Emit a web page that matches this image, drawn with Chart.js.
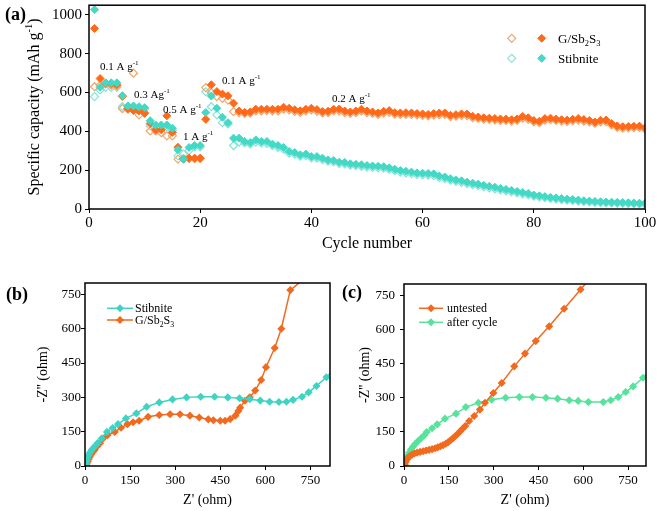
<!DOCTYPE html>
<html><head><meta charset="utf-8">
<script src="https://cdn.jsdelivr.net/npm/chart.js@4.4.1/dist/chart.umd.min.js"></script>
<style>
html,body{margin:0;padding:0;background:#fff;}
body{width:662px;height:511px;position:relative;overflow:hidden;}
canvas{position:absolute;}
</style></head><body>
<canvas id="ca" style="left:0px;top:0px;width:662px;height:260px" width="662" height="260"></canvas>
<canvas id="cb" style="left:0px;top:270px;width:340px;height:241px" width="340" height="241"></canvas>
<canvas id="cc" style="left:335px;top:270px;width:327px;height:241px" width="327" height="241"></canvas>
<script>
// ---------- DATA: panel (a) rate / cycling ----------
const cycles = [1,2,3,4,5,6,7,8,9,10,11,12,13,14,15,16,17,18,19,20,21,22,23,24,25,26,27,28,29,30,31,32,33,34,35,36,37,38,39,40,41,42,43,44,45,46,47,48,49,50,51,52,53,54,55,56,57,58,59,60,61,62,63,64,65,66,67,68,69,70,71,72,73,74,75,76,77,78,79,80,81,82,83,84,85,86,87,88,89,90,91,92,93,94,95,96,97,98,99,100];
const gsbFilled = [930,672,648,645,640,580,517,507,505,493,440,408,408,480,395,318,258,262,262,262,462,640,605,592,583,545,
  505,498,500,514,514,514,514,514,524,519,
  511,506,514,519,512,502,504,514,515,505,
  500,505,514,505,500,495,503,507,496,495,
  496,495,492,490,487,492,494,495,483,486,
  490,489,478,474,470,468,466,464,463,460,
  464,477,470,456,452,466,468,463,460,458,
  462,466,461,456,448,457,458,440,428,424,
  425,426,427,418];
const gsbOpen = [630,638,645,638,634,517,514,700,485,495,402,402,393,377,377,257,258,260,260,260,625,600,579,570,561,502,
  497,492,494,506,505,507,506,505,515,511,
  503,498,506,511,503,495,497,506,506,497,
  493,497,505,497,492,488,495,498,489,487,
  488,487,485,482,480,484,486,487,476,478,
  482,481,471,467,463,461,459,457,456,453,
  457,468,462,449,445,458,460,456,453,451,
  455,458,453,449,441,449,450,433,421,417,
  418,419,420,411];
const stibFilled = [1027,627,650,650,650,584,531,531,527,522,455,433,433,433,416,305,257,317,327,327,497,582,519,473,445,365,
  365,348,342,356,348,348,334,327,317,296,
  291,279,283,270,270,262,253,250,241,240,
  233,230,228,224,222,220,218,212,205,198,
  194,190,186,184,183,181,170,165,156,150,
  145,138,133,128,122,117,112,106,101,96,
  90,85,80,72,68,64,60,57,54,51,
  49,46,43,41,39,37,36,35,34,33,
  32,31,30,29];
const stibOpen = [579,613,627,627,627,527,527,525,520,515,428,424,425,424,405,274,283,301,320,320,604,527,485,445,438,327,
  345,340,335,345,340,338,326,318,308,288,
  283,272,275,263,262,254,246,243,234,232,
  226,223,220,216,214,212,210,204,197,190,
  186,182,178,176,175,172,162,157,148,142,
  137,130,125,120,114,109,104,98,93,88,
  83,78,73,66,62,58,54,51,48,46,
  44,41,38,36,34,33,32,31,30,29,
  28,27,26,25];
const aXTicks = [0,20,40,60,80,100];
const aYTicks = [0,200,400,600,800,1000];

// ---------- DATA: panel (b) Nyquist ----------
const bStibX = [0,3,5,8,12,17,23,32,42,55,73,92,110,136,171,205,247,291,338,385,431,475,514,548,583,614,645,670,692,722,744,770,803,830];
const bStibY = [0,10,22,35,48,60,72,85,100,120,149,166,183,208,230,259,278,291,300,303,303,300,296,292,286,281,280,281,289,303,322,350,388,425];
const bGsbX = [4,6,9,12,16,20,25,32,40,50,60,75,99,120,141,160,180,210,247,283,316,349,380,410,427,450,466,483,500,510,516,532,548,566,586,602,631,653,683,740];
const bGsbY = [0,10,20,30,40,50,60,70,85,100,120,135,149,167,183,191,198,215,223,226,226,220,212,204,200,198,198,205,220,240,255,285,300,330,376,432,516,600,769,830];

// ---------- DATA: panel (c) Nyquist ----------
const cUntX = [0,2,5,9,14,20,27,35,44,54,64,74,84,94,104,113,122,131,140,148,156,164,172,180,188,196,205,218,235,254,271,299,327,369,405,441,486,536,591,640];
const cUntY = [0,8,18,28,37,44,50,55,59,62,65,68,71,74,78,82,87,92,98,105,113,122,132,142,153,164,176,198,220,248,278,321,365,438,494,549,614,691,776,850];
const cAftX = [0,3,5,8,12,17,23,30,38,47,57,67,76,94,111,137,174,207,249,293,340,386,430,475,514,553,583,617,667,692,717,742,767,800,830];
const cAftY = [0,8,20,32,45,58,72,85,98,110,122,134,149,166,183,208,230,259,278,291,300,303,303,300,296,289,286,281,281,289,303,325,350,388,430];
const zTicks = [0,150,300,450,600,750];

// ---------- helpers ----------
const FONT = '"Liberation Serif", "Times New Roman", serif';
const C_G = '#FF6A1A', C_GO = '#F2A56A', C_S = '#43D9C6', C_SO = '#86E3D8';
const C_B_S = '#3FD3C4', C_ORG = '#F26A1E', C_AFT = '#57E39B';
function pts(xs, ys){ return xs.map((x,i)=>({x:x, y:ys[i]})); }
function richWidth(ctx, parts, size){
  let w=0; for(const [t,k] of parts){ ctx.font=(k==='n'?size:size*0.65)+'px '+FONT; w+=ctx.measureText(t).width; } return w;
}
function drawRich(ctx, x, y, parts, size, align, color){
  ctx.save(); ctx.fillStyle=color||'#000'; ctx.textBaseline='alphabetic'; ctx.textAlign='left';
  const w=richWidth(ctx, parts, size);
  let cx = align==='center' ? x-w/2 : x;
  for(const [t,k] of parts){
    const s = k==='n'?size:size*0.65;
    ctx.font = s+'px '+FONT;
    const dy = k==='sup' ? -size*0.42 : (k==='sub' ? size*0.22 : 0);
    ctx.fillText(t, cx, y+dy);
    cx += ctx.measureText(t).width;
  }
  ctx.restore();
}
function boldLabel(ctx, text, x, y){
  ctx.save(); ctx.fillStyle='#000'; ctx.font='bold 18px '+FONT; ctx.textBaseline='alphabetic'; ctx.textAlign='left';
  ctx.fillText(text, x, y); ctx.restore();
}
function frame(chart){
  const a=chart.chartArea, ctx=chart.ctx;
  ctx.save(); ctx.strokeStyle='#000'; ctx.lineWidth=1.5;
  ctx.strokeRect(a.left, a.top, a.right-a.left, a.bottom-a.top); ctx.restore();
}
function axisX(min,max,ticks,size,w,titleText,titleSize,tpad,tickPad){
  return {type:'linear', min:min, max:max,
    afterBuildTicks: s=>{ s.ticks = ticks.map(v=>({value:v})); },
    ticks:{font:{family:FONT,size:size}, color:'#000', padding:tickPad, maxRotation:0, autoSkip:false, callback:v=>String(v)},
    grid:{display:true, drawOnChartArea:false, drawTicks:true, tickLength:4, color:'#000', lineWidth:1},
    border:{display:false},
    title: titleText ? {display:true, text:titleText, color:'#000', font:{family:FONT,size:titleSize}, padding:tpad} : {display:false},
    afterFit: s=>{ s.height=w; s.paddingLeft=0; s.paddingRight=0; }
  };
}
function axisY(min,max,ticks,size,w,titleText,titleSize,tpad,tickPad){
  return {type:'linear', min:min, max:max,
    afterBuildTicks: s=>{ s.ticks = ticks.map(v=>({value:v})); },
    ticks:{font:{family:FONT,size:size}, color:'#000', padding:tickPad, autoSkip:false, callback:v=>String(v)},
    grid:{display:true, drawOnChartArea:false, drawTicks:true, tickLength:4, color:'#000', lineWidth:1},
    border:{display:false},
    title: titleText ? {display:true, text:titleText, color:'#000', font:{family:FONT,size:titleSize}, padding:tpad} : {display:false},
    afterFit: s=>{ s.width=w; s.paddingTop=0; s.paddingBottom=0; }
  };
}
const base = {responsive:false, animation:false, devicePixelRatio:1,
  plugins:{legend:{display:false}, tooltip:{enabled:false}}, events:[]};

// ---------- Panel (a) ----------
const aPlugin = {id:'aDeco', afterDraw(chart){
  const ctx=chart.ctx;
  frame(chart);
  boldLabel(ctx,'(a)',5,20);
  // y title rotated with superscript
  ctx.save(); ctx.translate(38.5,107); ctx.rotate(-Math.PI/2);
  drawRich(ctx,0,0,[['Specific capacity (mAh g','n'],['-1','sup'],[')','n']],16,'center');
  ctx.restore();
  // rate annotations
  const ann = [[100,70,'0.1 A g'],[134,97.5,'0.3 Ag'],[163,113,'0.5 A g'],[183,140,'1 A g'],[222,83.5,'0.1 A g'],[332,102,'0.2 A g']];
  for(const [x,y,t] of ann) drawRich(ctx,x,y,[[t,'n'],['-1','sup']],11,'left');
  // legend
  const H = Chart.helpers;
  const rows = [[38.3,C_GO,C_G,[['G/Sb','n'],['2','sub'],['S','n'],['3','sub']]],[58.3,C_SO,C_S,[['Stibnite','n']]]];
  for(const [y,co,cf,lab] of rows){
    ctx.save(); ctx.strokeStyle=co; ctx.fillStyle='rgba(0,0,0,0)'; ctx.lineWidth=1.2;
    H.drawPoint(ctx,{pointStyle:'rectRot',radius:4,borderWidth:1.2},511.7,y); ctx.restore();
    ctx.save(); ctx.strokeStyle=cf; ctx.fillStyle=cf; ctx.lineWidth=1;
    H.drawPoint(ctx,{pointStyle:'rectRot',radius:4,borderWidth:1},541.7,y); ctx.restore();
    drawRich(ctx,558,y+4.5,lab,13,'left');
  }
}};
new Chart(document.getElementById('ca'), {
  type:'scatter',
  data:{datasets:[
    {label:'Stibnite (discharge)', data:pts(cycles,stibFilled), pointStyle:'rectRot', pointRadius:4, backgroundColor:C_S, borderColor:C_S, borderWidth:1, showLine:false},
    {label:'G/Sb2S3 (discharge)', data:pts(cycles,gsbFilled), pointStyle:'rectRot', pointRadius:4, backgroundColor:C_G, borderColor:C_G, borderWidth:1, showLine:false},
    {label:'G/Sb2S3 (charge)', data:pts(cycles,gsbOpen), pointStyle:'rectRot', pointRadius:4, backgroundColor:'rgba(0,0,0,0)', borderColor:C_GO, borderWidth:1.2, showLine:false},
    {label:'Stibnite (charge)', data:pts(cycles,stibOpen), pointStyle:'rectRot', pointRadius:4, backgroundColor:'rgba(0,0,0,0)', borderColor:C_SO, borderWidth:1.2, showLine:false}
  ]},
  options:Object.assign({}, base, {
    layout:{padding:{left:0,top:5,right:17,bottom:0}},
    scales:{
      x: axisX(0,100,aXTicks,15,51,'Cycle number',16,{top:0,bottom:7},1),
      y: axisY(0,1050,aYTicks,15,89,null,16,0,3)
    }
  }),
  plugins:[aPlugin]
});

// ---------- legend helper for (b)/(c) ----------
function lineLegend(ctx, x1, x2, y, color, labelParts, tx){
  ctx.save(); ctx.strokeStyle=color; ctx.lineWidth=1.5; ctx.beginPath(); ctx.moveTo(x1,y); ctx.lineTo(x2,y); ctx.stroke();
  ctx.fillStyle=color; Chart.helpers.drawPoint(ctx,{pointStyle:'rectRot',radius:3,borderWidth:1},(x1+x2)/2,y); ctx.restore();
  drawRich(ctx, tx, y+4, labelParts, 12, 'left');
}

// ---------- Panel (b) ----------
const bPlugin = {id:'bDeco', afterDraw(chart){
  const ctx=chart.ctx; frame(chart);
  boldLabel(ctx,'(b)',6,30);
  lineLegend(ctx,107,133,38.3,C_B_S,[['Stibnite','n']],135);
  lineLegend(ctx,107,133,50,C_ORG,[['G/Sb','n'],['2','sub'],['S','n'],['3','sub']],135);
}};
new Chart(document.getElementById('cb'), {
  type:'scatter',
  data:{datasets:[
    {label:'Stibnite', data:pts(bStibX,bStibY), showLine:true, borderColor:C_B_S, backgroundColor:C_B_S, borderWidth:1.5, pointStyle:'rectRot', pointRadius:3, tension:0},
    {label:'G/Sb2S3', data:pts(bGsbX,bGsbY), showLine:true, borderColor:C_ORG, backgroundColor:C_ORG, borderWidth:1.5, pointStyle:'rectRot', pointRadius:3, tension:0}
  ]},
  options:Object.assign({}, base, {
    layout:{padding:{left:0,top:13,right:10,bottom:0}},
    scales:{
      x: axisX(0,815,zTicks,13,45,"Z' (ohm)",14,{top:0,bottom:2.5},3),
      y: axisY(0,800,zTicks,13,85,"-Z'' (ohm)",14,{top:34.5,bottom:0},0)
    }
  }),
  plugins:[bPlugin]
});

// ---------- Panel (c) ----------
const cPlugin = {id:'cDeco', afterDraw(chart){
  const ctx=chart.ctx; frame(chart);
  boldLabel(ctx,'(c)',7,28);
  lineLegend(ctx,84,108,38.3,C_ORG,[['untested','n']],112);
  lineLegend(ctx,84,108,52.3,C_AFT,[['after cycle','n']],112);
}};
new Chart(document.getElementById('cc'), {
  type:'scatter',
  data:{datasets:[
    {label:'untested', data:pts(cUntX,cUntY), showLine:true, borderColor:C_ORG, backgroundColor:C_ORG, borderWidth:1.5, pointStyle:'rectRot', pointRadius:3, tension:0},
    {label:'after cycle', data:pts(cAftX,cAftY), showLine:true, borderColor:C_AFT, backgroundColor:C_AFT, borderWidth:1.5, pointStyle:'rectRot', pointRadius:3, tension:0}
  ]},
  options:Object.assign({}, base, {
    layout:{padding:{left:0,top:14,right:16,bottom:0}},
    scales:{
      x: axisX(0,810,zTicks,13,45,"Z' (ohm)",14,{top:0,bottom:2.5},3),
      y: axisY(0,800,zTicks,13,69,"-Z'' (ohm)",14,{top:21.5,bottom:0},5)
    }
  }),
  plugins:[cPlugin]
});
</script>
</body></html>
